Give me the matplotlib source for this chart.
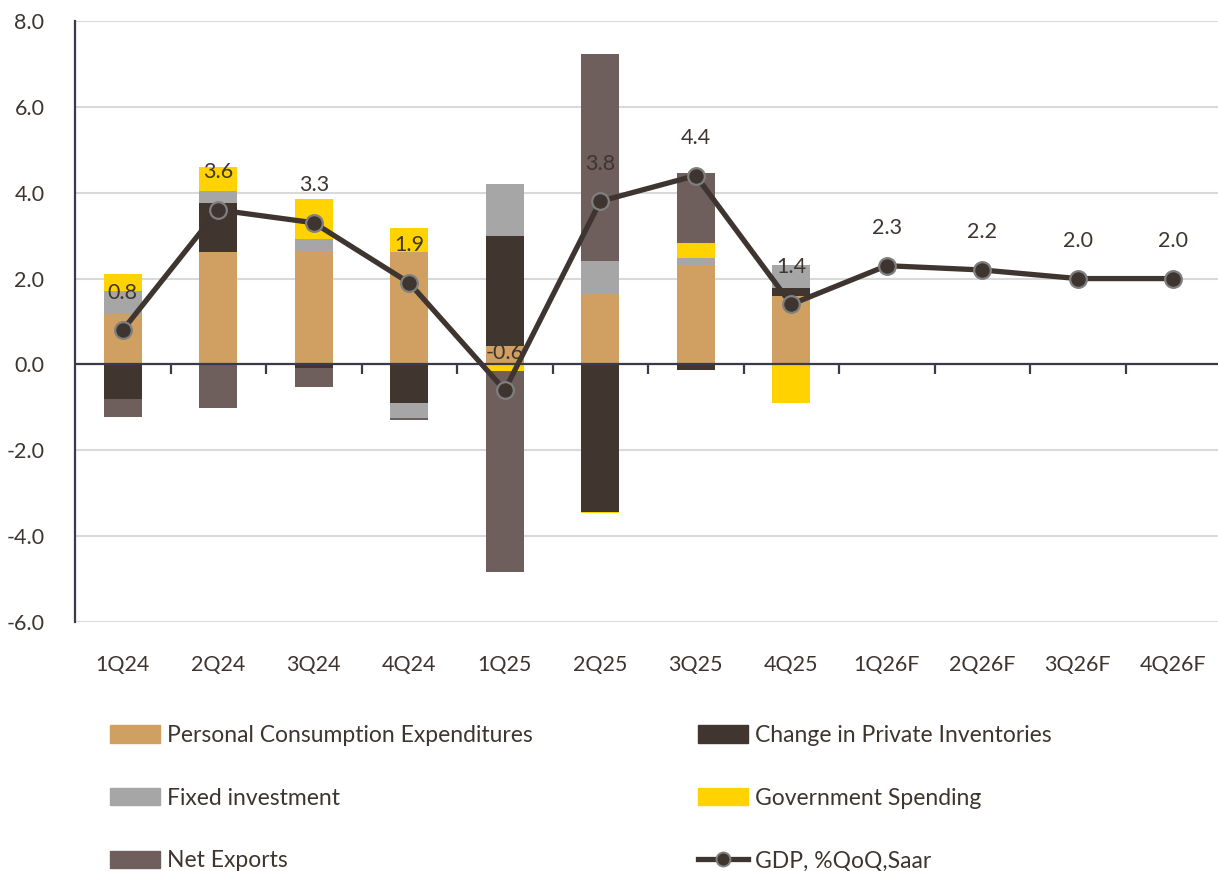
import numpy as np
import matplotlib.pyplot as plt
from matplotlib.patches import Patch
from matplotlib.lines import Line2D

plt.rcParams['font.family'] = ['Lato', 'DejaVu Sans']

quarters = ["1Q24", "2Q24", "3Q24", "4Q24", "1Q25", "2Q25", "3Q25", "4Q25",
            "1Q26F", "2Q26F", "3Q26F", "4Q26F"]
pce = [1.18, 2.61, 2.65, 2.61, 0.43, 1.64, 2.32, 1.59, 0, 0, 0, 0]
inventories = [-0.81, 1.15, -0.09, -0.91, 2.56, -3.43, -0.14, 0.19, 0, 0, 0, 0]
fixed_inv = [0.53, 0.27, 0.28, -0.33, 1.22, 0.77, 0.15, 0.53, 0, 0, 0, 0]
gov = [0.39, 0.58, 0.92, 0.57, -0.16, -0.02, 0.37, -0.91, 0, 0, 0, 0]
net_exports = [-0.41, -1.02, -0.43, -0.06, -4.67, 4.82, 1.61, 0.0, 0, 0, 0, 0]
gdp = [0.8, 3.6, 3.3, 1.9, -0.6, 3.8, 4.4, 1.4, 2.3, 2.2, 2.0, 2.0]

# stacking order inside each bar (bottom to top on each side of zero)
series = [
    ("Personal Consumption Expenditures", pce, "#D0A062"),
    ("Change in Private Inventories", inventories, "#40362F"),
    ("Fixed investment", fixed_inv, "#A6A6A6"),
    ("Government Spending", gov, "#FFD200"),
    ("Net Exports", net_exports, "#6E5E5C"),
]
txt = "#3E3530"
axis_col = "#3A3A48"

fig = plt.figure(figsize=(12.18, 8.71), dpi=100)
ax = fig.add_axes([75 / 1218, 1 - 622 / 871, 1146 / 1218, (622 - 21) / 871])

x = np.arange(len(quarters))
pos_base = np.zeros(len(x))
neg_base = np.zeros(len(x))
for name, vals, col in series:
    v = np.array(vals, dtype=float)
    bottom = np.where(v >= 0, pos_base, neg_base)
    ax.bar(x, v, 0.4, bottom=bottom, color=col, zorder=2)
    pos_base += np.where(v >= 0, v, 0)
    neg_base += np.where(v < 0, v, 0)

ax.plot(x, gdp, color="#3E3530", lw=3.8, marker="o", ms=12,
        mfc="#3E3530", mec="#7F7F7F", mew=1.6, zorder=4)
for xi, g in zip(x, gdp):
    ax.annotate(f"{g:.1f}", (xi, g), xytext=(0, 27), textcoords="offset points",
                ha="center", va="center", fontsize=15.5, color=txt, zorder=5)

ax.set_xlim(-0.5, 11.5)
ax.set_ylim(-6, 8)
ax.set_yticks(np.arange(-6, 9, 2))
ax.set_yticklabels([f"{t:.1f}" for t in np.arange(-6, 9, 2)])
ax.yaxis.grid(True, color="#D9D9D9", lw=1.5, zorder=0)
ax.set_axisbelow(True)
ax.tick_params(axis="y", length=0, pad=22, labelsize=15.5, labelcolor=txt)
ax.set_xticks(x)
ax.set_xticklabels(quarters)
ax.tick_params(axis="x", length=0, pad=24, labelsize=15.5, labelcolor=txt)
for s in ["top", "right", "bottom"]:
    ax.spines[s].set_visible(False)
ax.spines["left"].set_color(axis_col)
ax.spines["left"].set_linewidth(1.6)
ax.axhline(0, color=axis_col, lw=1.6, zorder=3)

# tick marks on the zero line between categories
zero_loc = (0 - ax.get_ylim()[0]) / (ax.get_ylim()[1] - ax.get_ylim()[0])
sec = ax.secondary_xaxis(zero_loc)
sec.set_xticks(x[:-1] + 0.5)
sec.set_xticklabels([])
sec.tick_params(length=7, width=1.6, color=axis_col, direction="out")
sec.spines["bottom"].set_visible(False)

handles = [Patch(color=c, label=n) for n, _, c in series]
gdp_handle = Line2D([], [], color="#3E3530", lw=3.8, marker="o", ms=10,
                    mfc="#3E3530", mec="#7F7F7F", mew=1.4, label="GDP, %QoQ,Saar")
left_h = [handles[0], handles[2], handles[4]]
right_h = [handles[1], handles[3], gdp_handle]
common = dict(frameon=False, fontsize=16.5, labelcolor=txt, handlelength=2.2,
              handleheight=0.78, handletextpad=0.3, labelspacing=1.82,
              borderpad=0, borderaxespad=0, loc="upper left")
leg1 = fig.legend(handles=left_h, bbox_to_anchor=(110 / 1218, 1 - 725 / 871), **common)
leg2 = fig.legend(handles=right_h, bbox_to_anchor=(698 / 1218, 1 - 725 / 871), **common)

fig.savefig("out.png", dpi=100)
